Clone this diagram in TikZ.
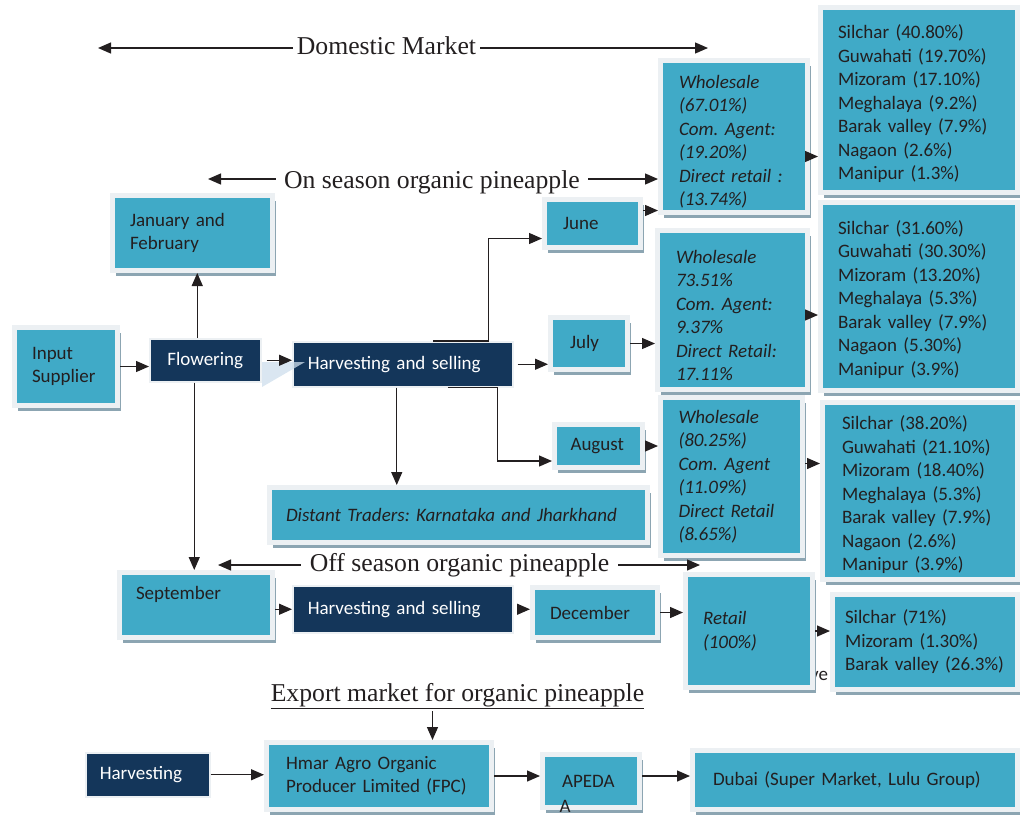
\documentclass[tikz,border=0pt]{standalone}
\usepackage{fontspec}
\setmainfont{Liberation Serif}
\newfontfamily\boxfont{Carlito}
\usepackage{xcolor}
\usepackage{tikz}
\usetikzlibrary{arrows.meta,shadows}
\frenchspacing

\definecolor{boxcyan}{RGB}{64,170,199}
\definecolor{boxnavy}{RGB}{20,54,90}
\definecolor{framegrey}{RGB}{236,240,243}
\definecolor{shadegrey}{RGB}{140,165,178}
\definecolor{inkdark}{RGB}{35,31,32}
\definecolor{wedgeblue}{RGB}{205,222,236}

\newcommand{\topgap}[1]{\rule{0pt}{#1}}

\begin{document}
\begin{tikzpicture}[x=1pt, y=-1pt,
  cbox/.style={anchor=north west, rectangle, fill=boxcyan, draw=framegrey, line width=5pt,
    align=left, text=inkdark, font=\boxfont\fontsize{19}{23.5}\selectfont,
    drop shadow={shadow xshift=3.5pt, shadow yshift=-5.5pt, fill=shadegrey, opacity=1}},
  dbox/.style={anchor=north west, rectangle, fill=boxnavy, draw=framegrey, line width=1.5pt,
    align=left, text=white, font=\boxfont\fontsize{19}{23.5}\selectfont},
  itx/.style={font=\boxfont\itshape\fontsize{19}{23.5}\selectfont},
  head/.style={font=\fontsize{25.7}{30}\selectfont, text=inkdark},
  frag/.style={font=\boxfont\fontsize{19}{23.5}\selectfont, text=inkdark, inner sep=0pt},
  arr/.style={-{Triangle[length=13pt,width=11pt]}, line width=1.3pt, draw=inkdark}
]
\useasboundingbox (0,0) rectangle (1020,817);

\node[frag] (vefrag) at (819,676) {ve};

\node[cbox, minimum width=160pt, minimum height=75pt, text width=125pt] (jan) at (110,193) {January and\\February};
\node[cbox, minimum width=103pt, minimum height=78pt, text width=68pt] (input) at (12,325) {Input\\Supplier};
\node[dbox, minimum width=111pt, minimum height=43pt, align=center] (flow) at (149,338) {Flowering};
\node[dbox, minimum width=220pt, minimum height=45pt, text width=190pt] (hs1) at (292,341) {Harvesting and selling};
\fill[wedgeblue, opacity=0.75] (262,362) -- (305,362) -- (262,387) -- cycle;

\node[cbox, minimum width=96pt, minimum height=48pt, text width=59pt] (june) at (542,197) {June};
\node[cbox, minimum width=77pt, minimum height=52pt, text width=38pt] (july) at (548,315) {July};
\node[cbox, minimum width=88pt, minimum height=43pt, text width=56pt] (aug) at (552,422) {August};
\node[cbox, itx, minimum width=378pt, minimum height=55pt, text width=345pt] (distant) at (267,485) {Distant Traders: Karnataka and Jharkhand};

\node[cbox, itx, minimum width=147pt, minimum height=152pt, text width=110pt] (ws1) at (658,58)
  {\topgap{24pt}Wholesale\\(67.01\%)\\Com. Agent:\\(19.20\%)\\Direct retail :\\(13.74\%)};
\node[cbox, itx, minimum width=150pt, minimum height=159pt, text width=113pt] (ws2) at (655,228)
  {\topgap{24pt}Wholesale\\73.51\%\\Com. Agent:\\9.37\%\\Direct Retail:\\17.11\%};
\node[cbox, itx, minimum width=142pt, minimum height=158pt, text width=106pt] (ws3) at (658,395)
  {Wholesale\\(80.25\%)\\Com. Agent\\(11.09\%)\\Direct Retail\\(8.65\%)};

\node[cbox, minimum width=197pt, minimum height=185pt, text width=162pt] (city1) at (818,5)
  {\topgap{22pt}Silchar (40.80\%)\\Guwahati (19.70\%)\\Mizoram (17.10\%)\\Meghalaya (9.2\%)\\Barak valley (7.9\%)\\Nagaon (2.6\%)\\Manipur (1.3\%)};
\node[cbox, minimum width=197pt, minimum height=188pt, text width=162pt] (city2) at (818,200)
  {\topgap{20pt}Silchar (31.60\%)\\Guwahati (30.30\%)\\Mizoram (13.20\%)\\Meghalaya (5.3\%)\\Barak valley (7.9\%)\\Nagaon (5.30\%)\\Manipur (3.9\%)};
\node[cbox, minimum width=195pt, minimum height=177pt, text width=156pt] (city3) at (820,400)
  {\topgap{22pt}Silchar (38.20\%)\\Guwahati (21.10\%)\\Mizoram (18.40\%)\\Meghalaya (5.3\%)\\Barak valley (7.9\%)\\Nagaon (2.6\%)\\Manipur (3.9\%)};

\node[cbox, minimum width=153pt, minimum height=65pt, text width=120pt] (sept) at (117,570) {September\\\mbox{}};
\node[dbox, minimum width=220pt, minimum height=47pt, text width=190pt] (hs2) at (292,585) {Harvesting and selling};
\node[cbox, minimum width=125pt, minimum height=50pt, text width=90pt] (dec) at (530,585) {December};
\node[cbox, itx, minimum width=127pt, minimum height=113pt, text width=92pt] (retail) at (683,572) {Retail\\(100\%)};
\node[cbox, minimum width=185pt, minimum height=95pt, text width=160pt] (city4) at (830,592)
  {Silchar (71\%)\\Mizoram (1.30\%)\\Barak~valley~(26.3\%)};

\node[dbox, minimum width=124pt, minimum height=44pt, text width=96pt] (harvest) at (85,752) {Harvesting};
\node[cbox, minimum width=225pt, minimum height=67pt, text width=186pt] (hmar) at (264,740) {Hmar Agro Organic\\Producer Limited (FPC)};
\node[cbox, minimum width=97pt, minimum height=53pt, text width=58pt] (apeda) at (540,752) {APEDA};
\node[frag, anchor=west] (apedaA) at ([xshift=19.5pt, yshift=4pt]apeda.south west) {A};
\node[cbox, minimum width=325pt, minimum height=59pt, text width=284pt] (dubai) at (690,748) {Dubai (Super Market, Lulu Group)};

\node[head, inner xsep=4pt] (domestic) at (386.5,46) {Domestic Market};
\coordinate (domL) at (98,48);
\coordinate (domR) at (708,48);
\draw[arr] ([yshift=-2pt]domestic.west) -- (domL);
\draw[arr] ([yshift=-2pt]domestic.east) -- (domR);

\node[head, inner xsep=8pt] (onseason) at (432,182) {On season organic pineapple};
\coordinate (onL) at (208,179);
\draw[arr] ([yshift=3pt]onseason.west) -- (onL);
\draw[arr] ([yshift=3pt]onseason.east) -- ([yshift=3pt]onseason.east -| ws1.west);

\node[head, inner xsep=9pt] (offseason) at (459.5,565) {Off season organic pineapple};
\coordinate (offL) at (218,566);
\coordinate (offR) at (700,566);
\draw[arr] (offseason.west) -- (offseason.west -| offL);
\draw[arr] (offseason.east) -- (offseason.east -| offR);

\node[head, inner sep=2pt] (export) at (457.5,696) {\underline{Export market for organic pineapple}};
\draw[arr] ([xshift=-25pt]export.south) -- ([xshift=-25pt]export.south |- hmar.north);

\draw[arr] (input.east) -- (input.east -| flow.west);
\draw[arr] ([xshift=5pt]flow.east) -- (flow.east -| hs1.west);
\draw[arr] ([xshift=-8pt]flow.north) -- ([xshift=-8pt]flow.north |- jan.south);
\draw[arr] ([xshift=-11pt]flow.south) -- ([xshift=-11pt]flow.south |- sept.north);
\draw[arr] ([xshift=30pt]hs1.north) -- ++(56,0) |- ([yshift=-15pt]june.west);
\draw[arr] ([xshift=4pt]hs1.east) -- (hs1.east -| july.west);
\draw[arr] ([xshift=-6pt]hs1.south) -- ([xshift=-6pt]hs1.south |- distant.north);
\draw[arr] ([xshift=45pt]hs1.south) -- ++(50,0) |- ([yshift=-15pt]aug.west);
\draw[arr] ([yshift=13pt]june.east) -- ([yshift=13pt]june.east -| ws1.west);
\draw[arr] ([yshift=-20pt]ws1.east) -- ([yshift=-20pt]ws1.east -| city1.west);
\draw[arr] (july.east) -- (july.east -| ws2.west);
\draw[arr] ([yshift=-5pt]ws2.east) -- ([yshift=-5pt]ws2.east -| city2.west);
\draw[arr] (aug.east) -- (aug.east -| ws3.west);
\draw[arr] ([yshift=13pt]ws3.east) -- ([yshift=13pt]ws3.east -| city3.west);
\draw[arr] (sept.east |- hs2.west) -- (hs2.west);
\draw[arr] ([xshift=4pt]hs2.east) -- (hs2.east -| dec.west);
\draw[arr] (dec.east) -- (dec.east -| retail.west);
\draw[arr] (retail.east) -- (retail.east -| city4.west);
\draw[arr] (harvest.east) -- (harvest.east -| hmar.west);
\draw[arr] (hmar.east) -- (hmar.east -| apeda.west);
\draw[arr] ([yshift=5pt]apeda.east) -- ([yshift=5pt]apeda.east -| dubai.west);
\end{tikzpicture}
\end{document}
